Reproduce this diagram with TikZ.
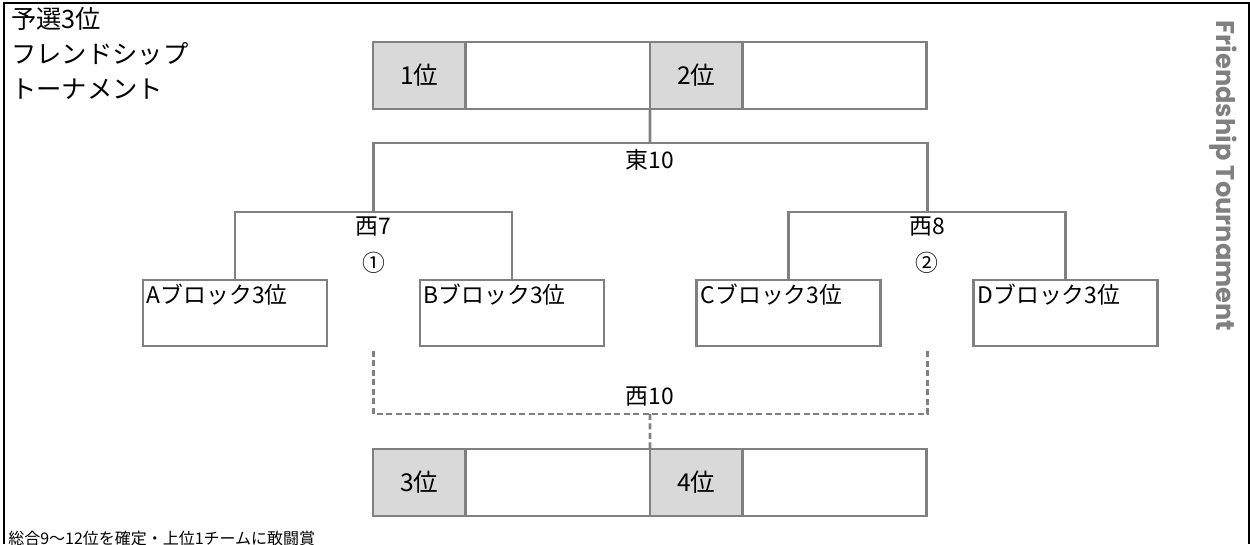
\documentclass[tikz,border=0pt]{standalone}
\usepackage{fontspec}
\setmainfont{Noto Sans CJK JP}
\newfontfamily\titlefont{Poppins}[BoldFont=* Bold]
\usetikzlibrary{positioning, calc}

\definecolor{linegray}{RGB}{128,128,128}
\definecolor{boxgray}{RGB}{217,217,217}

\begin{document}
\begin{tikzpicture}[
    x=0.02cm, y=-0.02cm,
    node distance=0pt,
    link/.style={draw=linegray, line width=1.6pt},
    dashlink/.style={link, dash pattern=on 3.4pt off 2pt},
    cell/.style={draw=linegray, line width=1.6pt, rectangle, outer sep=0pt, inner sep=0pt, minimum height=1.34cm, font=\fontsize{14}{16}\selectfont},
    rank/.style={cell, fill=boxgray, minimum width=1.85cm},
    blank/.style={cell, fill=white, minimum width=3.69cm},
    block/.style={draw=linegray, line width=1.6pt, rectangle, outer sep=0pt, minimum width=3.68cm, minimum height=1.32cm},
    tag/.style={font=\fontsize{13}{15}\selectfont, inner sep=1pt}
]
\useasboundingbox (0,0) rectangle (1250,544);

% Frame
\draw[black, line width=0.8pt] (4,544) -- (4,3) -- (1249,3) -- (1249,544);

% Title
\node[anchor=north west, align=left, inner sep=0pt, font=\fontsize{14.4}{19.9}\selectfont] (title) at (11,7) {予選3位\\フレンドシップ\\トーナメント};
\node[rotate=-90, text=linegray, font=\titlefont\bfseries\fontsize{14.6}{16}\selectfont] (side) at (1223,176) {Friendship Tournament};

% Top box
\node[rank, anchor=north west] (rank1) at (373,42) {1位};
\node[blank, right=of rank1] (rank1b) {};
\node[rank, right=of rank1b] (rank2) {2位};
\node[blank, right=of rank2] (rank2b) {};

% Blocks
\node[block, anchor=north west, label={[anchor=north west, tag, inner sep=2pt]north west:Aブロック3位}] (blockA) at (143,280) {};
\node[block, right=1.86cm of blockA, label={[anchor=north west, tag, inner sep=2pt]north west:Bブロック3位}] (blockB) {};
\node[block, right=1.86cm of blockB, label={[anchor=north west, tag, inner sep=2pt]north west:Cブロック3位}] (blockC) {};
\node[block, right=1.86cm of blockC, label={[anchor=north west, tag, inner sep=2pt]north west:Dブロック3位}] (blockD) {};

% Bottom box
\node[rank, anchor=north west] (rank3) at (373,449) {3位};
\node[blank, right=of rank3] (rank3b) {};
\node[rank, right=of rank3b] (rank4) {4位};
\node[blank, right=of rank4] (rank4b) {};

% Junctions
\coordinate (e10) at (650,143);
\coordinate (w7) at ($(blockA.north)!0.5!(blockB.north) + (0,-68)$);
\coordinate (w8) at ($(blockC.north)!0.5!(blockD.north) + (0,-68)$);

% Labels
\node[tag] (lblE10) at (650,160) {東10};
\node[tag] (lblW7) at ($(w7)+(0,15)$) {西7};
\node[tag] (lblW8) at ($(w8)+(0,15)$) {西8};
\node[tag] (game1) at ($(w7)+(0,51)$) {①};
\node[tag] (game2) at ($(w8)+(0,51)$) {②};
\node[tag] (lblW10) at (650,397) {西10};

% Lines
\draw[link] (blockA.north) |- (w7) -| (blockB.north);
\draw[link] (blockC.north) |- (w8) -| (blockD.north);
\draw[link] (w7) |- (e10) -| (w8);
\draw[link] (e10) -- (rank2.south west);

% Dashed lines
\coordinate (d7) at (w7 |- 0,351);
\coordinate (d8) at (w8 |- 0,351);
\coordinate (w10) at (650,414);
\draw[dashlink] (d7) |- (w10) -| (d8);
\draw[dashlink] (w10) -- (rank4.north west);

% Note
\node[anchor=west, inner sep=0pt, font=\fontsize{9.1}{11}\selectfont] (note) at (8,538) {総合9〜12位を確定・上位1チームに敢闘賞};

\end{tikzpicture}
\end{document}
